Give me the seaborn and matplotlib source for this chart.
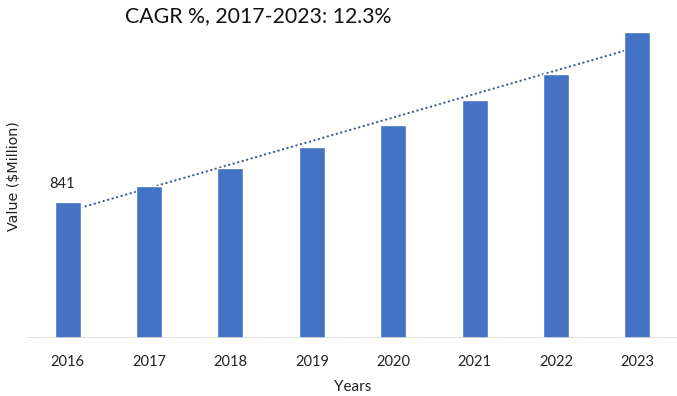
import numpy as np
import pandas as pd
import matplotlib
matplotlib.use("Agg")
import matplotlib.pyplot as plt
import seaborn as sns

years = ["2016", "2017", "2018", "2019", "2020", "2021", "2022", "2023"]
values = [841, 938, 1050, 1178, 1311, 1467, 1625, 1888]
title = "CAGR %, 2017-2023: 12.3%"
first_label = "841"

sns.set_theme(style="white")
plt.rcParams["font.family"] = ["Lato", "DejaVu Sans"]

df = pd.DataFrame({"Years": years, "Value": values})

fig = plt.figure(figsize=(6.77, 3.96), dpi=100)
ax = fig.add_axes([27 / 677, 1 - 338.3 / 396, 651 / 677, (338.3 - 13.5) / 396])

bar_color = "#4472C4"
sns.barplot(data=df, x="Years", y="Value", color=bar_color, width=0.32,
            saturation=1, ax=ax, zorder=2)

# linear trend line (fitted from the data)
xpos = np.arange(len(values))
slope, intercept = np.polyfit(xpos, values, 1)
ax.plot(xpos, slope * xpos + intercept, linestyle=(0, (0.1, 2.0)),
        color="#3E5B8F", lw=1.6, dash_capstyle="round", zorder=1)

ax.set_xlim(-0.5, len(values) - 0.5)
ax.set_ylim(0, 2000)
for s in ax.spines.values():
    s.set_visible(False)
ax.axhline(0, color="#D9D9D9", lw=1.2, zorder=3)
ax.set_yticks([])
ax.tick_params(axis="x", length=0, pad=12, labelsize=10.5, colors="#222222")

ax.set_xlabel("Years", fontsize=11, color="#222222", labelpad=8)
ax.set_ylabel("Value ($Million)", fontsize=10.3, color="#222222",
              family=["DejaVu Sans"], labelpad=4)

ax.annotate(first_label, xy=(0, values[0]), xytext=(-4, 8),
            textcoords="offset points", ha="center", va="bottom",
            fontsize=10.5, color="#222222")

fig.text(258 / 677, 1 - 16 / 396, title, ha="center", va="center",
         fontsize=15.3, color="#111111")

fig.savefig("out.png", dpi=100)
